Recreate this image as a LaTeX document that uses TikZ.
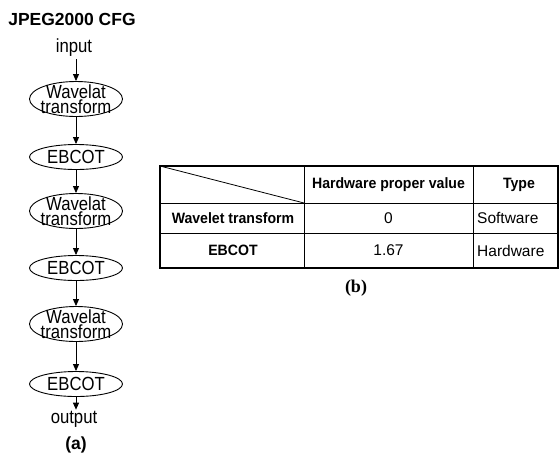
\documentclass[tikz,border=0pt]{standalone}
\usepackage{fontspec}
\setmainfont{Liberation Sans}
\newfontfamily\serifb{Liberation Serif}
\newfontfamily\flowfont[FakeStretch=0.88]{Liberation Sans}
\newfontfamily\headfont[FakeStretch=0.94]{Liberation Sans}
\usetikzlibrary{shapes.geometric,arrows.meta}
\tikzset{
  flowtxt/.style={font=\flowfont\fontsize{19}{14.6}\selectfont,align=center,inner sep=0pt},
  flowell/.style={flowtxt,ellipse,draw,line width=0.9pt,minimum width=93pt},
  wellip/.style={flowell,inner xsep=-2.6pt,inner ysep=-2.8pt,minimum height=35pt},
  eellip/.style={flowell,inner sep=0pt,minimum height=25pt},
  flowarr/.style={line width=0.9pt,-{Triangle[width=6pt,length=7pt]}},
  thead/.style={font=\headfont\fontsize{15}{16}\selectfont\bfseries,inner sep=0pt},
  tcell/.style={font=\fontsize{15.5}{16}\selectfont,inner sep=0pt},
}
\begin{document}
\begin{tikzpicture}[x=1pt,y=-1pt]
\useasboundingbox (0,0) rectangle (559,469);
% (a) flow graph
\node[font=\fontsize{17.5}{20}\selectfont\bfseries,inner sep=0pt] (title) at (72,19) {JPEG2000 CFG};
\node[flowtxt] (in) at (74,48) {input};
\node[wellip] (w1) at (76,99) {Wavelat\\transform};
\node[eellip] (e1) at (76,157) {EBCOT};
\node[wellip] (w2) at (76,211) {Wavelat\\transform};
\node[eellip] (e2) at (76,268) {EBCOT};
\node[wellip] (w3) at (76,324) {Wavelat\\transform};
\node[eellip] (e3) at (76,384) {EBCOT};
\node[flowtxt] (out) at (74,419) {output};
\node[font=\fontsize{17.5}{20}\selectfont\bfseries,inner sep=0pt] (capa) at (76,445) {(a)};
\draw[flowarr,shorten <=2pt] (in.south -| w1.north) -- (w1.north);
\draw[flowarr] (w1) -- (e1);
\draw[flowarr] (e1) -- (w2);
\draw[flowarr] (w2) -- (e2);
\draw[flowarr] (e2) -- (w3);
\draw[flowarr] (w3) -- (e3);
\draw[flowarr,shorten >=1pt] (e3.south) -- (out.north -| e3.south);
% (b) table
\coordinate (tl) at (160,166);
\coordinate (br) at (558,268);
\draw[line width=0.8pt] (160,203) -- (558,203);
\draw[line width=0.8pt] (160,233) -- (558,233);
\draw[line width=0.8pt] (304,166) -- (304,268);
\draw[line width=0.8pt] (473,166) -- (473,268);
\draw[line width=0.8pt] (tl) -- (304,203);
\draw[line width=1.6pt] (tl) rectangle (br);
\node[thead] (h2) at (388.5,185) {Hardware proper value};
\node[thead] (h3) at (519,185) {Type};
\node[thead] (r1) at (233,218) {Wavelet transform};
\node[thead] (r2) at (233,250.5) {EBCOT};
\node[tcell] (v1) at (388.5,218) {0};
\node[tcell] (v2) at (388.5,250.5) {1.67};
\node[tcell,anchor=west] (t1) at (477,218) {Software};
\node[tcell,anchor=west] (t2) at (477,250.5) {Hardware};
\node[font=\fontsize{18}{20}\selectfont\serifb\bfseries,inner sep=0pt] (capb) at (356,288) {(b)};
\end{tikzpicture}
\end{document}
